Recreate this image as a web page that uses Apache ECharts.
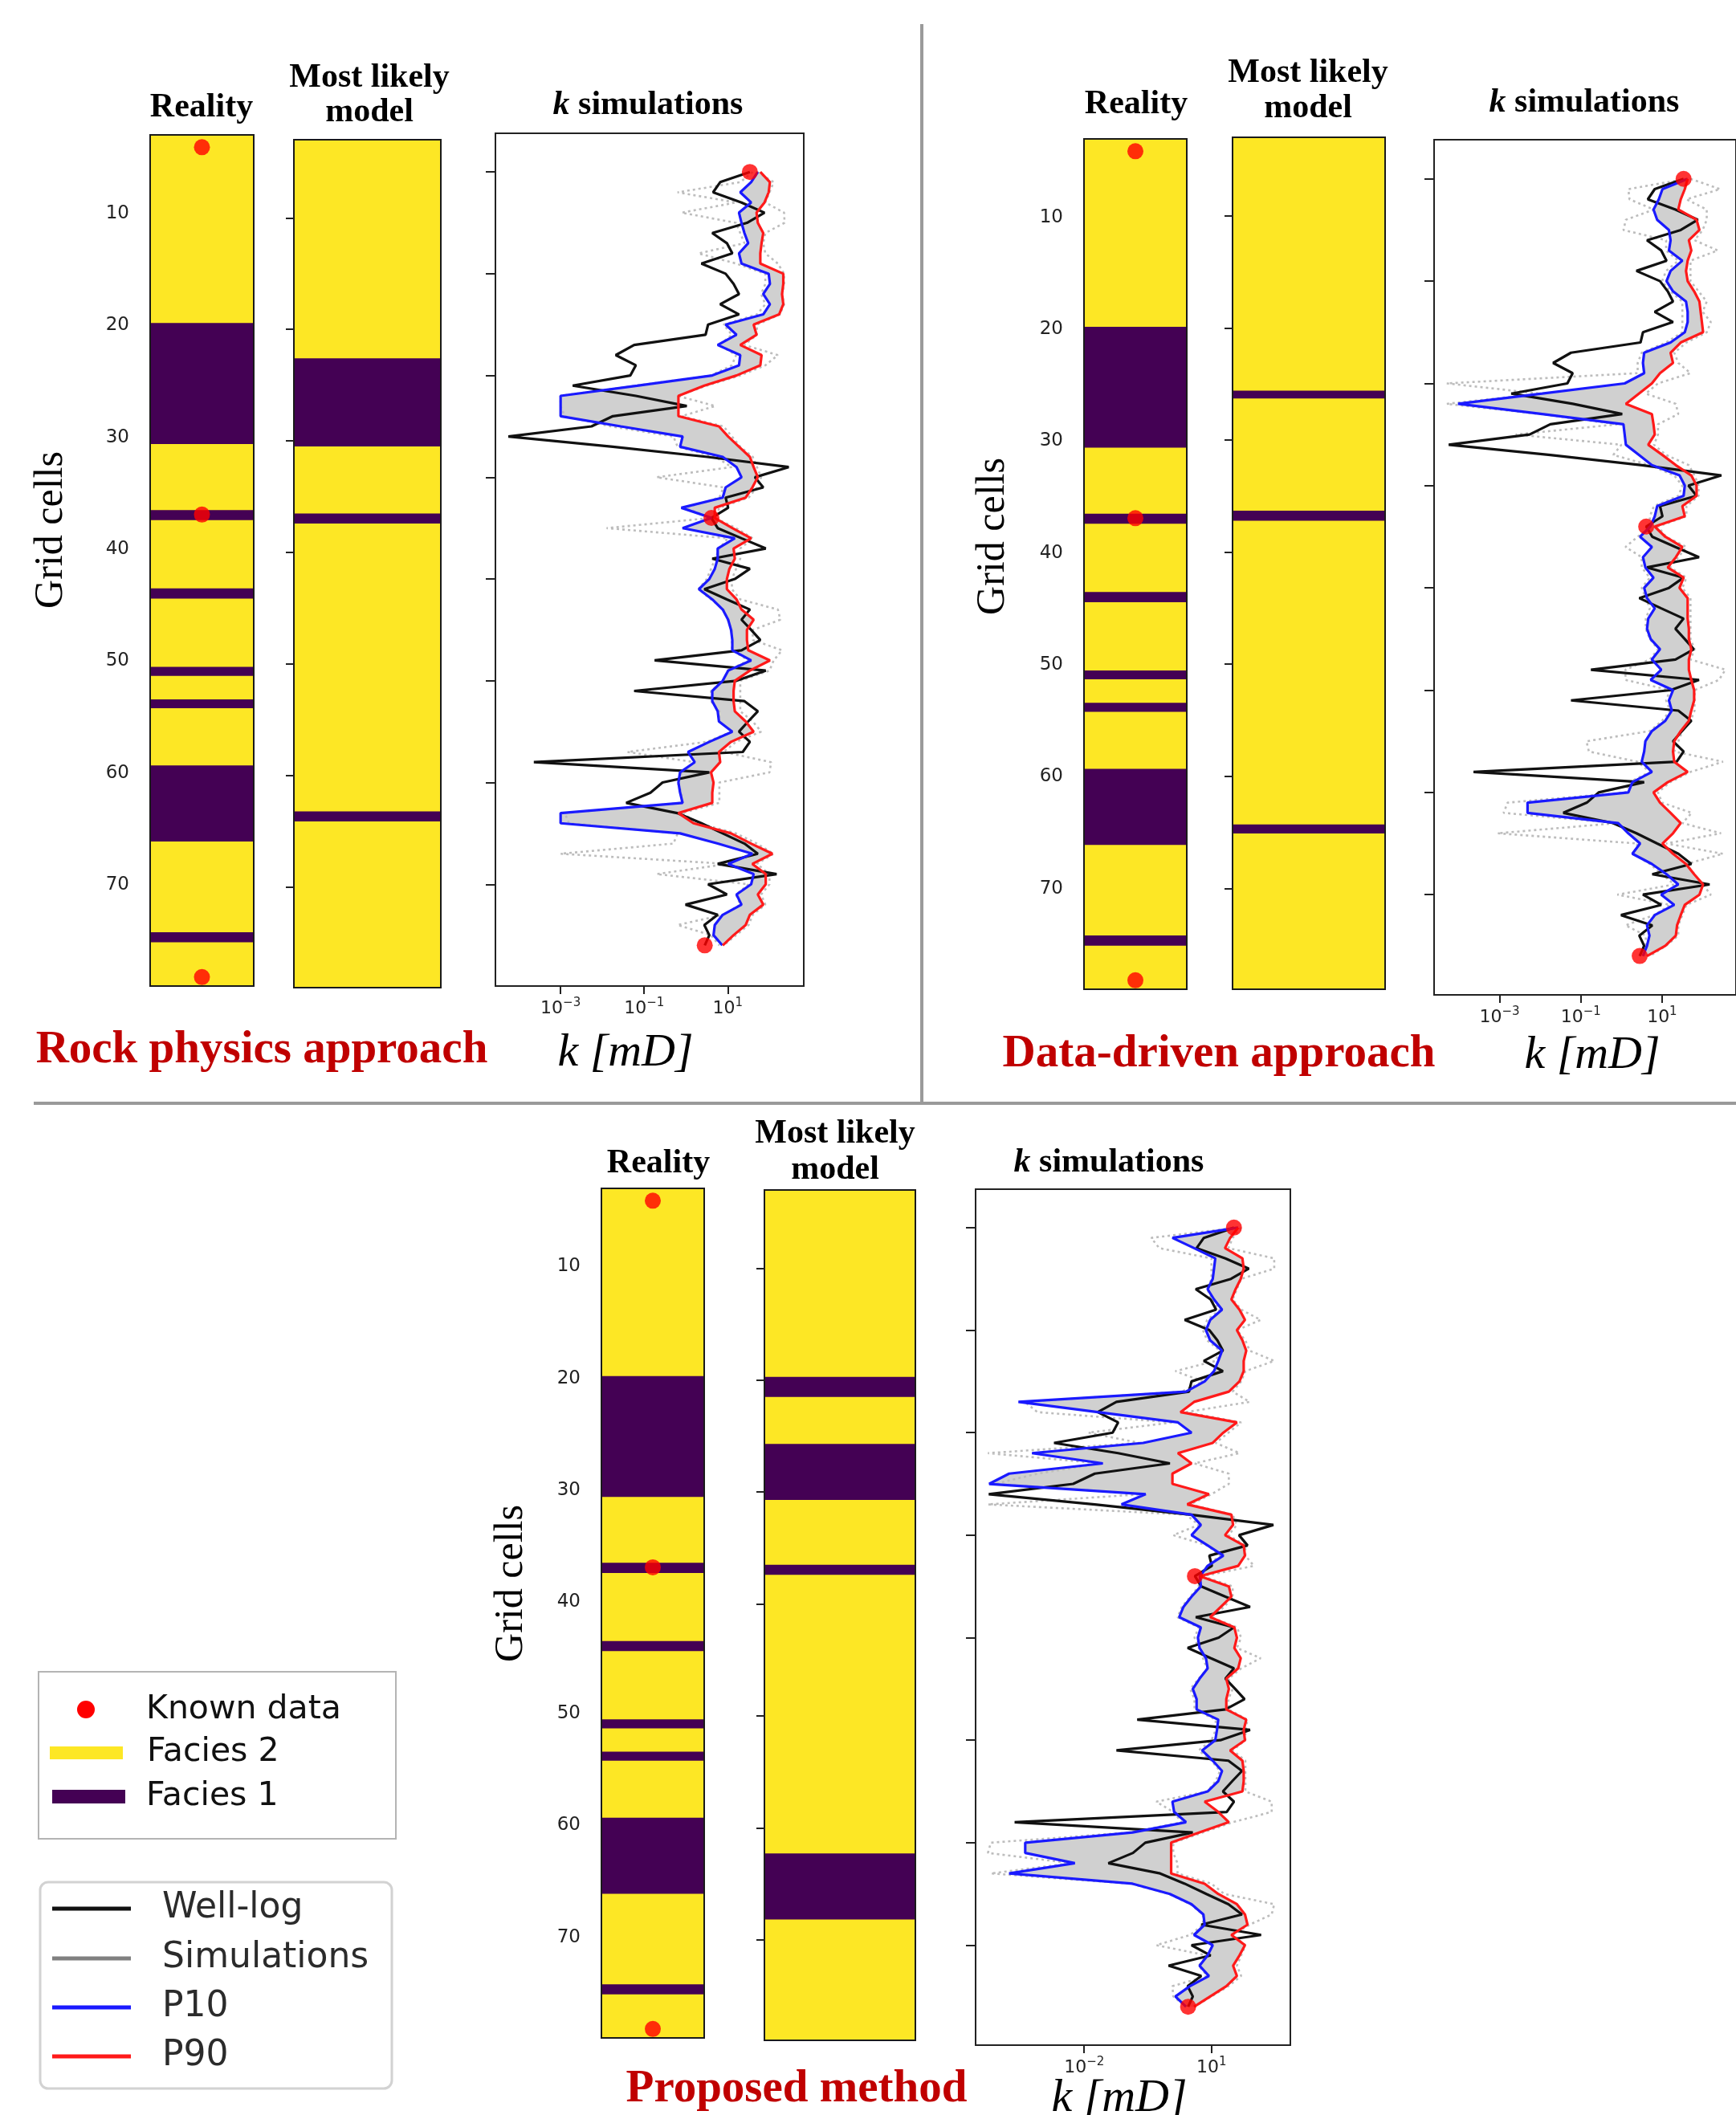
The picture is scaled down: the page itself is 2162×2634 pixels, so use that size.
<!DOCTYPE html>
<html><head><meta charset="utf-8">
<script src="https://cdn.jsdelivr.net/npm/echarts@6/dist/echarts.min.js"></script>
<style>html,body{margin:0;padding:0;background:#fff}#c{width:2162px;height:2634px}</style>
</head><body><div id="c"></div>
<script>
// ---------------- DATA ----------------
const depthTicks = [10, 20, 30, 40, 50, 60, 70];
const kDepthTicks = [0, 10, 20, 30, 40, 50, 60, 70];
const kTickExpsAB = [-3, -1, 1];
const kTickExpsC = [-2, 1];

// Facies 1 intervals [top, bottom] in grid cells (rest of the column is Facies 2)
const realityFacies1 = [[19.8, 30.6], [36.5, 37.4], [43.5, 44.4], [50.5, 51.3], [53.4, 54.2], [59.3, 66.1], [74.2, 75.1]];
const modelFacies1Rock = [[22.6, 30.5], [36.5, 37.4], [63.2, 64.1]];
const modelFacies1Data = [[25.6, 26.3], [36.3, 37.2], [64.3, 65.1]];
const modelFacies1Prop = [[19.7, 21.5], [25.7, 30.7], [36.5, 37.4], [62.3, 68.2]];
const realityKnownDepths = [4.1, 36.9, 78.2];
const knownIdx = [0, 34, 76];

// log10(k [mD]) per sample, sample index 0..76 (k-simulation plot depth)
const wellLogLog10 = [1.53,0.82,0.65,1.33,1.88,1.46,0.63,0.98,1.11,0.37,
  0.95,1.14,1.27,0.82,1.27,0.53,0.47,-1.24,-1.68,-1.20,
  -1.33,-2.71,-1.20,0.02,-1.75,-2.26,-4.25,-1.75,0.51,2.46,
  1.65,1.85,0.95,1.01,0.61,0.76,1.33,1.91,0.63,1.53,
  1.17,0.44,0.98,1.53,1.33,1.56,1.78,1.33,-0.75,1.91,
  1.21,-1.24,1.40,1.72,1.49,1.27,1.53,1.36,-3.64,0.56,
  -0.56,-0.85,-1.43,-0.21,0.37,0.88,1.40,1.72,0.76,2.17,
  0.53,0.98,-0.01,0.76,0.44,0.56,0.45];

const p10RockLog10 = [1.72,1.56,1.30,1.56,1.27,1.33,1.40,1.49,1.27,1.33,
  1.98,2.01,1.85,2.01,1.85,0.95,1.21,0.76,1.30,1.27,
  0.63,-1.17,-3.00,-3.00,-3.00,-1.56,-0.08,-0.14,0.88,1.21,
  1.33,0.95,0.88,-0.11,0.61,-0.08,1.17,0.76,0.76,0.69,
  0.56,0.31,0.63,0.88,1.01,1.08,1.11,1.11,1.56,1.01,
  0.88,0.63,0.63,0.76,0.79,1.11,0.56,0.05,0.21,-0.14,
  -0.18,-0.14,-0.08,-3.00,-3.00,-0.14,0.76,1.59,1.01,1.62,
  1.56,1.21,1.33,0.88,0.69,0.66,0.87];
const p90RockLog10 = [1.78,2.01,1.98,1.88,1.69,1.72,1.85,1.81,1.78,1.78,
  2.33,2.33,2.30,2.33,2.23,1.62,1.69,1.30,1.81,1.78,
  1.21,0.44,-0.18,-0.18,-0.18,0.79,1.01,1.27,1.53,1.62,
  1.72,1.59,1.43,0.69,0.69,1.11,1.56,1.14,1.17,1.04,
  0.98,0.98,1.21,1.33,1.62,1.46,1.46,1.49,2.01,1.53,
  1.17,1.14,1.14,1.17,1.43,1.62,1.08,0.79,0.82,0.60,
  0.66,0.63,0.63,-0.18,0.18,1.08,1.56,2.07,1.59,1.91,
  1.91,1.72,1.85,1.53,1.43,1.14,0.88];
const simARockLog10 = [1.6,1.3,-0.2,1.2,-0.1,1.2,1.3,1.4,0.3,1.2,
  1.9,1.9,1.8,1.9,1.7,0.9,1.1,0.8,1.2,1.1,
  0.6,-1.2,-3.0,-3.0,-2.9,-1.8,-0.3,-0.2,0.7,1.1,
  -0.7,0.9,0.8,0.0,0.6,-1.9,1.0,0.8,0.7,0.6,
  0.5,0.3,0.6,0.9,1.0,1.1,1.1,1.1,1.5,1.0,
  0.9,0.6,0.6,0.8,0.8,1.1,0.5,-1.4,0.2,-0.1,
  -0.2,-0.1,-0.1,-2.9,-2.8,-0.2,-0.3,-3.0,1.0,-0.7,
  1.5,1.2,1.3,0.9,-0.2,0.6,0.8];
const simBRockLog10 = [1.7,2.1,2.0,1.9,2.35,2.36,1.9,1.85,1.9,2.2,
  2.35,2.35,2.3,2.35,2.25,1.7,1.7,1.4,2.2,1.9,
  1.3,0.5,-0.2,0.7,-0.1,0.9,1.1,1.3,1.6,1.7,
  1.8,1.7,1.5,0.8,0.7,1.2,1.6,1.3,1.3,1.2,
  1.1,1.1,1.3,2.2,2.26,1.6,1.6,2.3,2.1,2.0,
  1.3,1.3,1.3,1.3,1.6,1.8,1.2,0.9,2.04,2.0,
  0.8,0.8,0.8,-0.1,0.3,1.2,1.7,2.1,1.7,2.0,
  2.0,1.8,1.9,1.6,1.5,1.2,0.9];

const p10DataLog10 = [1.63,1.01,0.92,0.79,0.88,1.17,1.21,1.17,1.50,1.21,
  1.11,1.27,1.59,1.63,1.63,1.56,1.21,0.56,0.53,0.56,
  0.08,-1.95,-4.02,-1.95,0.05,0.08,0.11,0.43,0.75,1.43,
  1.56,1.53,0.88,0.82,0.71,0.46,0.75,0.53,0.59,0.79,
  0.56,0.63,0.82,0.66,0.63,0.72,0.95,0.75,0.98,0.72,
  1.27,1.17,1.24,1.08,0.75,0.59,0.56,0.50,0.75,0.27,
  0.17,-2.31,-2.31,-0.08,0.17,0.46,0.27,0.75,1.11,1.40,
  0.98,1.30,0.82,0.63,0.69,0.63,0.53];
const p90DataLog10 = [1.63,1.56,1.46,1.40,1.85,1.92,1.66,1.72,1.63,1.59,
  1.63,1.79,1.92,1.95,1.98,2.01,1.46,1.21,1.27,0.95,
  0.75,0.43,0.11,0.75,0.79,0.82,0.66,1.01,1.34,1.72,
  1.85,1.85,1.50,1.56,0.82,1.08,1.50,1.34,1.14,1.53,
  1.43,1.63,1.63,1.63,1.66,1.66,1.72,1.66,1.66,1.72,
  1.79,1.79,1.72,1.66,1.46,1.30,1.27,1.30,1.63,1.14,
  0.79,0.95,1.21,1.46,1.27,1.01,1.27,1.59,1.79,2.01,
  1.92,1.56,1.46,1.37,1.34,1.08,0.63];
const simADataLog10 = [1.6,0.17,0.2,0.8,0.11,0.05,1.1,1.1,1.4,1.1,
  1.0,1.2,1.5,1.5,1.5,1.5,1.1,0.5,0.4,0.4,
  -4.3,-2.0,-4.3,-2.0,-0.1,-2.6,0.0,-0.2,0.7,1.3,
  1.5,1.4,0.8,0.7,0.7,0.4,0.1,0.5,0.5,0.7,
  0.5,0.6,0.7,0.6,0.6,0.7,0.9,0.7,0.1,0.1,
  1.2,1.1,1.2,1.0,0.7,-0.86,-0.8,0.4,0.7,0.2,
  0.1,-2.8,-2.9,-0.1,-3.05,0.4,0.3,0.7,1.0,1.3,
  -0.1,1.2,0.8,0.1,0.6,0.6,0.5];
const simBDataLog10 = [1.7,2.43,1.6,2.1,2.1,2.0,1.8,2.37,1.7,1.7,
  1.7,1.9,2.1,2.0,2.2,2.1,1.6,1.3,1.4,1.7,
  0.9,0.6,1.34,1.4,0.9,0.9,0.8,1.1,1.66,1.8,
  1.9,1.9,1.6,1.6,0.9,1.1,1.6,1.4,1.2,1.6,
  1.5,1.7,1.7,1.7,1.7,1.7,1.8,1.7,2.56,2.4,
  1.8,1.8,1.8,1.7,1.5,1.4,1.3,2.5,1.7,1.2,
  0.9,1.0,1.73,1.5,2.45,1.1,2.5,1.6,1.8,2.0,
  2.2,1.6,1.5,1.4,1.4,1.1,0.7];

const p10PropLog10 = [1.63,0.08,0.59,1.09,1.06,1.03,0.91,1.06,1.25,0.97,
  0.87,0.97,1.25,1.16,1.06,0.84,0.40,-3.55,-1.68,0.21,
  0.53,-0.61,-3.23,-1.56,-3.77,-4.24,-0.55,-1.12,0.53,0.75,
  0.53,0.91,1.28,0.91,0.73,0.75,0.53,0.34,0.24,0.75,
  0.68,0.72,0.87,0.91,0.72,0.56,0.65,0.65,1.16,1.13,
  1.09,0.78,1.03,1.25,1.16,0.91,0.08,0.12,0.40,-0.86,
  -3.39,-3.39,-2.22,-3.77,-0.86,0.02,0.53,0.81,0.84,0.59,
  1.03,0.91,0.72,0.94,0.49,0.15,0.40];
const p90PropLog10 = [1.63,1.44,1.32,1.73,1.76,1.69,1.57,1.47,1.66,1.79,
  1.60,1.73,1.82,1.76,1.76,1.66,1.41,0.59,0.27,1.60,
  1.28,1.03,0.21,0.53,0.08,0.08,0.94,0.43,1.47,1.51,
  1.32,1.76,1.79,1.63,0.73,1.41,1.47,1.22,0.97,1.54,
  1.60,1.54,1.69,1.63,1.35,1.41,1.35,1.35,1.82,1.76,
  1.79,1.44,1.73,1.76,1.76,1.73,0.84,1.16,1.41,0.72,
  0.05,0.05,0.05,0.05,0.84,1.16,1.60,1.79,1.85,1.47,
  1.79,1.66,1.51,1.60,1.35,0.97,0.59];
const simAPropLog10 = [1.6,-0.42,-0.23,1.0,1.0,1.0,0.9,1.0,1.2,0.9,
  0.8,0.9,1.2,1.1,0.15,0.8,0.3,-3.4,-3.1,0.1,
  -1.9,-0.7,-4.27,-1.6,-3.1,-4.1,-0.6,-4.27,0.4,0.7,
  0.1,0.9,1.2,0.9,0.7,0.7,0.5,0.3,0.2,0.7,
  0.6,0.7,0.8,0.9,0.7,0.5,0.6,0.6,1.1,1.1,
  1.0,0.7,1.0,1.2,1.1,0.9,-0.3,0.1,0.3,-0.9,
  -4.2,-4.27,-2.3,-4.2,-0.9,0.0,0.5,0.8,0.8,0.5,
  -0.3,0.9,0.7,0.9,0.08,0.1,0.4];
const simBPropLog10 = [1.7,1.5,1.4,2.48,2.48,1.7,1.6,1.5,1.7,2.16,
  1.6,1.8,1.9,2.48,1.8,1.7,1.5,1.9,0.4,1.7,
  1.4,1.1,1.66,0.6,1.41,1.41,1.0,0.5,1.5,1.6,
  1.4,1.8,1.8,2.0,0.8,1.5,1.5,1.3,1.0,1.6,
  1.7,1.6,2.16,1.7,1.4,1.5,1.4,1.4,1.85,1.8,
  1.8,1.5,1.8,1.8,1.8,1.8,2.42,2.42,1.5,0.8,
  0.1,0.1,0.2,0.2,1.0,1.3,2.48,2.42,1.9,1.5,
  1.8,1.7,1.6,1.7,1.4,1.0,0.6];

// ---------------- STYLE / LAYOUT ----------------
const FACIES2 = '#fde725', FACIES1 = '#440154';
const SANS = "'DejaVu Sans', sans-serif";
const SERIF = "'Liberation Serif', 'Times New Roman', serif";

const panels = [
  { R: {left:187, top:168, width:129, height:1060, min:3, max:79},
    M: {left:366, top:174, width:183, height:1056, min:3, max:79},
    K: {left:617, top:166, width:384, height:1062, xmin:-4.56, xmax:2.82, ymin:-3.8, ymax:80},
    model: modelFacies1Rock, p10: p10RockLog10, p90: p90RockLog10, sims:[simARockLog10, simBRockLog10], ticks: kTickExpsAB },
  { R: {left:1350, top:173, width:128, height:1059, min:3, max:79},
    M: {left:1535, top:171, width:190, height:1061, min:3, max:79},
    K: {left:1786, top:174, width:384, height:1065, xmin:-4.61, xmax:2.82, ymin:-3.83, ymax:79.8},
    model: modelFacies1Data, p10: p10DataLog10, p90: p90DataLog10, sims:[simADataLog10, simBDataLog10], ticks: kTickExpsAB },
  { R: {left:749, top:1480, width:128, height:1058, min:3, max:79},
    M: {left:952, top:1482, width:188, height:1059, min:3, max:79},
    K: {left:1215, top:1481, width:392, height:1066, xmin:-4.56, xmax:2.86, ymin:-3.75, ymax:79.75},
    model: modelFacies1Prop, p10: p10PropLog10, p90: p90PropLog10, sims:[simAPropLog10, simBPropLog10], ticks: kTickExpsC }
];

const grids = [], xAxes = [], yAxes = [], series = [];

function faciesColumn(box, intervals, isReality) {
  const gi = grids.length;
  grids.push({left:box.left, top:box.top, width:box.width, height:box.height, show:true,
    backgroundColor:FACIES2, borderColor:'#1a1a1a', borderWidth:2});
  xAxes.push({gridIndex:gi, type:'value', min:0, max:1, show:false});
  yAxes.push({gridIndex:gi, type:'value', inverse:true, min:box.min, max:box.max, position:'left',
    axisLine:{show:false, onZero:false}, splitLine:{show:false},
    axisTick:{show:!isReality, customValues:depthTicks, length:10, lineStyle:{color:'#222', width:2}},
    axisLabel:{show:isReality, customValues:depthTicks, fontSize:23, color:'#222', fontFamily:SANS, margin:26}});
  series.push({type:'custom', xAxisIndex:gi, yAxisIndex:gi, silent:true, z:2,
    data: intervals.map(iv => [0, iv[0], iv[1]]),
    encode:{x:0, y:[1, 2]},
    renderItem:(p, api) => {
      const a = api.coord([0, api.value(1)]), b = api.coord([1, api.value(2)]);
      return {type:'rect', shape:{x:a[0] + 1, y:a[1], width:b[0] - a[0] - 2, height:b[1] - a[1]}, style:{fill:FACIES1}};
    }});
  if (isReality) {
    series.push({type:'scatter', xAxisIndex:gi, yAxisIndex:gi, silent:true, z:5,
      data: realityKnownDepths.map(d => [0.5, d]), symbolSize:20, itemStyle:{color:'#ff0000'}});
  }
}

function lineSeries(gi, arr, color, z, width, type) {
  return {type:'line', xAxisIndex:gi, yAxisIndex:gi, silent:true, z:z,
    data: arr.map((v, i) => [v, i]), showSymbol:false, symbol:'none',
    lineStyle:{color:color, width:width || 3.2, type:type || 'solid'}};
}

function kPanel(box, p10, p90, sims, ticks) {
  const gi = grids.length;
  grids.push({left:box.left, top:box.top, width:box.width, height:box.height, show:true,
    backgroundColor:'#fff', borderColor:'#222', borderWidth:2});
  xAxes.push({gridIndex:gi, type:'value', min:box.xmin, max:box.xmax, position:'bottom',
    axisLine:{show:false, onZero:false}, splitLine:{show:false},
    axisTick:{customValues:ticks, length:10, lineStyle:{color:'#222', width:2}},
    axisLabel:{customValues:ticks, margin:14,
      formatter: v => '{b|10}{s|' + (v < 0 ? '\u2212' : '') + Math.abs(v) + '}',
      rich:{b:{fontSize:22, fontFamily:SANS, color:'#222'},
            s:{fontSize:15, fontFamily:SANS, color:'#222', padding:[0, 0, 14, 0]}}}});
  yAxes.push({gridIndex:gi, type:'value', inverse:true, min:box.ymin, max:box.ymax, position:'left',
    axisLine:{show:false, onZero:false}, splitLine:{show:false},
    axisTick:{customValues:kDepthTicks, length:12, lineStyle:{color:'#222', width:2}},
    axisLabel:{show:false}});
  // simulation envelope between P10 and P90
  series.push({type:'custom', xAxisIndex:gi, yAxisIndex:gi, silent:true, z:1, data:[[0, 0]],
    renderItem:(p, api) => {
      const pts = [];
      for (let i = 0; i < p10.length; i++) pts.push(api.coord([p10[i], i]));
      for (let i = p90.length - 1; i >= 0; i--) pts.push(api.coord([p90[i], i]));
      return {type:'polygon', shape:{points:pts}, style:{fill:'#d0d0d0'}};
    }});
  sims.forEach(s => series.push(lineSeries(gi, s, '#bdbdbd', 2, 2.6, [3, 4])));
  series.push(lineSeries(gi, wellLogLog10, '#111111', 3));
  series.push(lineSeries(gi, p10, '#1a1aff', 4));
  series.push(lineSeries(gi, p90, '#ff1a1a', 5));
  series.push({type:'scatter', xAxisIndex:gi, yAxisIndex:gi, silent:true, z:6,
    data: knownIdx.map(i => [wellLogLog10[i], i]), symbolSize:20, itemStyle:{color:'#ff0000'}});
}

panels.forEach(p => {
  faciesColumn(p.R, realityFacies1, true);
  faciesColumn(p.M, p.model, false);
  kPanel(p.K, p.p10, p.p90, p.sims, p.ticks);
});

// ---------------- GRAPHIC TEXT / DECOR ----------------
const g = [];
function txt(x, y, text, font, fill, extra) {
  g.push(Object.assign({type:'text', x:x, y:y, silent:true, z:50,
    style:Object.assign({text:text, font:font, fill:fill || '#000', textAlign:'center', textVerticalAlign:'middle'}, extra || {})}));
}
const TB = 'bold 42px ' + SERIF;
const titleRich = {i:{font:'italic bold 42px ' + SERIF, fill:'#000'}};
const heads = [
  {r:[251,134], m:[460,97], m2:[460,140], k:[807,131], gc:[64,660], red:[326,1308,'Rock physics approach'], kmd:[779,1312]},
  {r:[1415,130], m:[1629,91], m2:[1629,135], k:[1973,128], gc:[1237,668], red:[1518,1313,'Data-driven approach'], kmd:[1983,1315]},
  {r:[820,1449], m:[1040,1412], m2:[1040,1457], k:[1381,1448], gc:[637,1972], red:[992,2602,'Proposed method'], kmd:[1394,2614]}
];
heads.forEach(h => {
  txt(h.r[0], h.r[1], 'Reality', TB);
  txt(h.m[0], h.m[1], 'Most likely', TB);
  txt(h.m2[0], h.m2[1], 'model', TB);
  txt(h.k[0], h.k[1], '{i|k} simulations', TB, '#000', {rich:titleRich});
  g.push({type:'text', x:h.gc[0], y:h.gc[1], rotation:Math.PI / 2, silent:true, z:50,
    style:{text:'Grid cells', font:'50px ' + SERIF, fill:'#000', textAlign:'center', textVerticalAlign:'middle'}});
  txt(h.red[0], h.red[1], h.red[2], 'bold 57px ' + SERIF, '#c00000');
  txt(h.kmd[0], h.kmd[1], 'k [mD]', 'italic 58px ' + SERIF, '#000');
});
// separators
g.push({type:'line', silent:true, z:40, shape:{x1:1148, y1:30, x2:1148, y2:1374}, style:{stroke:'#9a9a9a', lineWidth:4}});
g.push({type:'line', silent:true, z:40, shape:{x1:42, y1:1374, x2:2162, y2:1374}, style:{stroke:'#9a9a9a', lineWidth:4}});

// legend 1
g.push({type:'rect', silent:true, z:40, shape:{x:48, y:2082, width:445, height:208}, style:{fill:'#fff', stroke:'#b4b4b4', lineWidth:2}});
g.push({type:'circle', silent:true, z:41, shape:{cx:107, cy:2129, r:11}, style:{fill:'#ff0000'}});
g.push({type:'rect', silent:true, z:41, shape:{x:62, y:2175, width:91, height:16}, style:{fill:FACIES2}});
g.push({type:'rect', silent:true, z:41, shape:{x:65, y:2229, width:91, height:17}, style:{fill:FACIES1}});
const LF1 = '41px ' + SANS;
txt(182, 2129, 'Known data', LF1, '#111', {textAlign:'left'});
txt(183, 2182, 'Facies 2', LF1, '#111', {textAlign:'left'});
txt(182, 2237, 'Facies 1', LF1, '#111', {textAlign:'left'});

// legend 2
g.push({type:'rect', silent:true, z:40, shape:{x:50, y:2344, width:438, height:257, r:10}, style:{fill:'#fff', stroke:'#d2d2d2', lineWidth:3}});
const leg2 = [['Well-log', '#111111', 2377], ['Simulations', '#808080', 2439], ['P10', '#1a1aff', 2500], ['P90', '#ff1a1a', 2561]];
leg2.forEach(l => {
  g.push({type:'line', silent:true, z:41, shape:{x1:65, y1:l[2], x2:163, y2:l[2]}, style:{stroke:l[1], lineWidth:5}});
  txt(202, l[2], l[0], '44px ' + SANS, '#2b2b2b', {textAlign:'left'});
});

const chart = echarts.init(document.getElementById('c'), null, {renderer:'canvas', width:2162, height:2634});
chart.setOption({
  animation:false,
  backgroundColor:'#ffffff',
  grid:grids, xAxis:xAxes, yAxis:yAxes, series:series,
  graphic:{elements:g}
});
</script>
</body></html>
